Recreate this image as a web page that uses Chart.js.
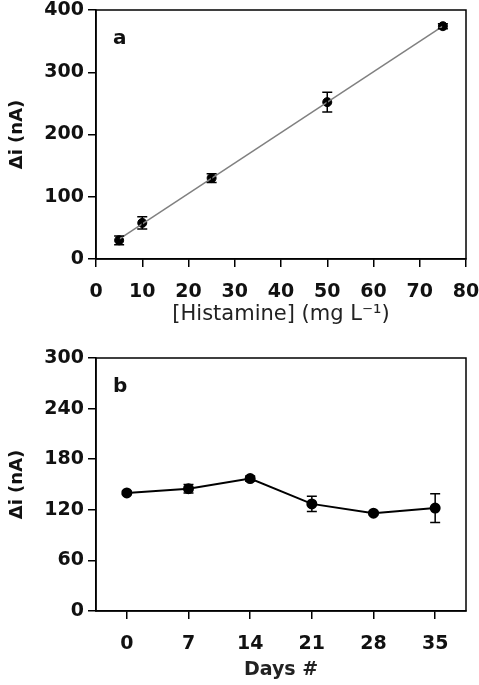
<!DOCTYPE html>
<html>
<head>
<meta charset="utf-8">
<script src="https://cdn.jsdelivr.net/npm/chart.js@4.4.0/dist/chart.umd.min.js"></script>
<style>
    html, body { margin: 0; padding: 0; background: #fff; }
    .panel { position: absolute; left: 0; width: 479px; }
    #boxA { top: 0; height: 330px; }
    #boxB { top: 330px; height: 355px; }
</style>
</head>
<body>
<div class="panel" id="boxA"><canvas id="chartA"></canvas></div>
<div class="panel" id="boxB"><canvas id="chartB"></canvas></div>
<script>
// panel a - calibration
const histX = [5, 10, 25, 50, 75];
const histY = [30, 58, 130, 252, 374];
const histErr = [7, 10, 7, 16, 4];
const fitX = [5, 75];
const fitY = [32, 374];

// panel b - stability
const days = ['0', '7', '14', '21', '28', '35'];
const stabY = [140, 145, 157, 127, 116, 122];
const stabErr = [2, 5, 3, 9, 2, 17];

const FONT = 'DejaVu Sans';
const TXT = '#111';

// error bars, drawn with the chart's own scales
const errorBars = {
    id: 'errorBars',
    afterDatasetsDraw(chart) {
        const ctx = chart.ctx;
        const yScale = chart.scales.y;
        chart.data.datasets.forEach((ds, i) => {
            if (!ds.errors) return;
            const meta = chart.getDatasetMeta(i);
            meta.data.forEach((pt, j) => {
                const v = typeof ds.data[j] === 'object' ? ds.data[j].y : ds.data[j];
                const e = ds.errors[j];
                const top = yScale.getPixelForValue(v + e);
                const bot = yScale.getPixelForValue(v - e);
                ctx.save();
                ctx.strokeStyle = '#000';
                ctx.lineWidth = 1.5;
                ctx.beginPath();
                ctx.moveTo(pt.x, top); ctx.lineTo(pt.x, bot);
                ctx.moveTo(pt.x - 5, top); ctx.lineTo(pt.x + 5, top);
                ctx.moveTo(pt.x - 5, bot); ctx.lineTo(pt.x + 5, bot);
                ctx.stroke();
                ctx.restore();
            });
        });
    }
};

// box around plot + panel letter
const frame = {
    id: 'frame',
    afterDraw(chart, args, opts) {
        const a = chart.chartArea;
        const ctx = chart.ctx;
        ctx.save();
        ctx.strokeStyle = '#000';
        ctx.lineWidth = 1.5;
        ctx.strokeRect(a.left, a.top, a.right - a.left, a.bottom - a.top);
        ctx.fillStyle = TXT;
        ctx.font = 'bold 20px "' + FONT + '"';
        ctx.textBaseline = 'alphabetic';
        ctx.fillText(opts.letter, a.left + 17, a.top + 34);
        ctx.restore();
    }
};

function yAxis(min, max, step, width) {
    return {
        min: min, max: max,
        afterFit: s => { s.width = width; s.paddingTop = 0; s.paddingBottom = 0; },
        ticks: { stepSize: step, color: TXT, padding: 4, font: { family: FONT, size: 19, weight: 'bold', lineHeight: 1.1 } },
        grid: { drawOnChartArea: false, tickLength: 8, color: '#000', lineWidth: 1.5 },
        border: { color: '#000', width: 1.5 },
        title: { display: true, text: 'Δi (nA)', color: TXT, padding: { top: 7, bottom: 0 },
                 font: { family: FONT, size: 18, weight: 'bold' } }
    };
}

function xFit(h) {
    return s => { s.height = h; s.paddingLeft = 0; s.paddingRight = 0; };
}

new Chart(document.getElementById('chartA'), {
    type: 'scatter',
    data: {
        datasets: [
            {
                type: 'line',
                data: fitX.map((x, i) => ({ x: x, y: fitY[i] })),
                borderColor: '#808080',
                borderWidth: 1.5,
                pointRadius: 0,
                fill: false
            },
            {
                data: histX.map((x, i) => ({ x: x, y: histY[i] })),
                errors: histErr,
                backgroundColor: '#000',
                borderColor: '#000',
                pointRadius: 4.5
            }
        ]
    },
    options: {
        responsive: true,
        maintainAspectRatio: false,
        animation: false,
        layout: { padding: { top: 10, right: 13, left: 0, bottom: 0 } },
        plugins: { legend: { display: false }, tooltip: { enabled: false }, frame: { letter: 'a' } },
        scales: {
            x: {
                type: 'linear',
                min: 0, max: 80,
                afterFit: xFit(71),
                ticks: { stepSize: 10, color: TXT, padding: 14, font: { family: FONT, size: 19, weight: 'bold' } },
                grid: { drawOnChartArea: false, tickLength: 8, color: '#000', lineWidth: 1.5 },
                border: { color: '#000', width: 1.5 },
                title: { display: true, text: '[Histamine] (mg L⁻¹)', color: '#222', padding: { top: 0, bottom: 3 },
                         font: { family: FONT, size: 21 } }
            },
            y: yAxis(0, 400, 100, 96)
        }
    },
    plugins: [errorBars, frame]
});

new Chart(document.getElementById('chartB'), {
    type: 'line',
    data: {
        labels: days,
        datasets: [{
            data: stabY,
            errors: stabErr,
            borderColor: '#000',
            backgroundColor: '#000',
            borderWidth: 2,
            pointRadius: 4.5,
            tension: 0,
            fill: false
        }]
    },
    options: {
        responsive: true,
        maintainAspectRatio: false,
        animation: false,
        layout: { padding: { top: 28, right: 13, left: 0, bottom: 0 } },
        plugins: { legend: { display: false }, tooltip: { enabled: false }, frame: { letter: 'b' } },
        scales: {
            x: {
                type: 'category',
                offset: true,
                afterFit: xFit(74),
                ticks: { color: TXT, padding: 14, font: { family: FONT, size: 19, weight: 'bold' } },
                grid: { offset: false, drawOnChartArea: false, tickLength: 8, color: '#000', lineWidth: 1.5 },
                border: { color: '#000', width: 1.5 },
                title: { display: true, text: 'Days #', color: '#222', padding: { top: 0, bottom: 4 },
                         font: { family: FONT, size: 19, weight: 'bold' } }
            },
            y: yAxis(0, 300, 60, 96)
        }
    },
    plugins: [errorBars, frame]
});
</script>
</body>
</html>
